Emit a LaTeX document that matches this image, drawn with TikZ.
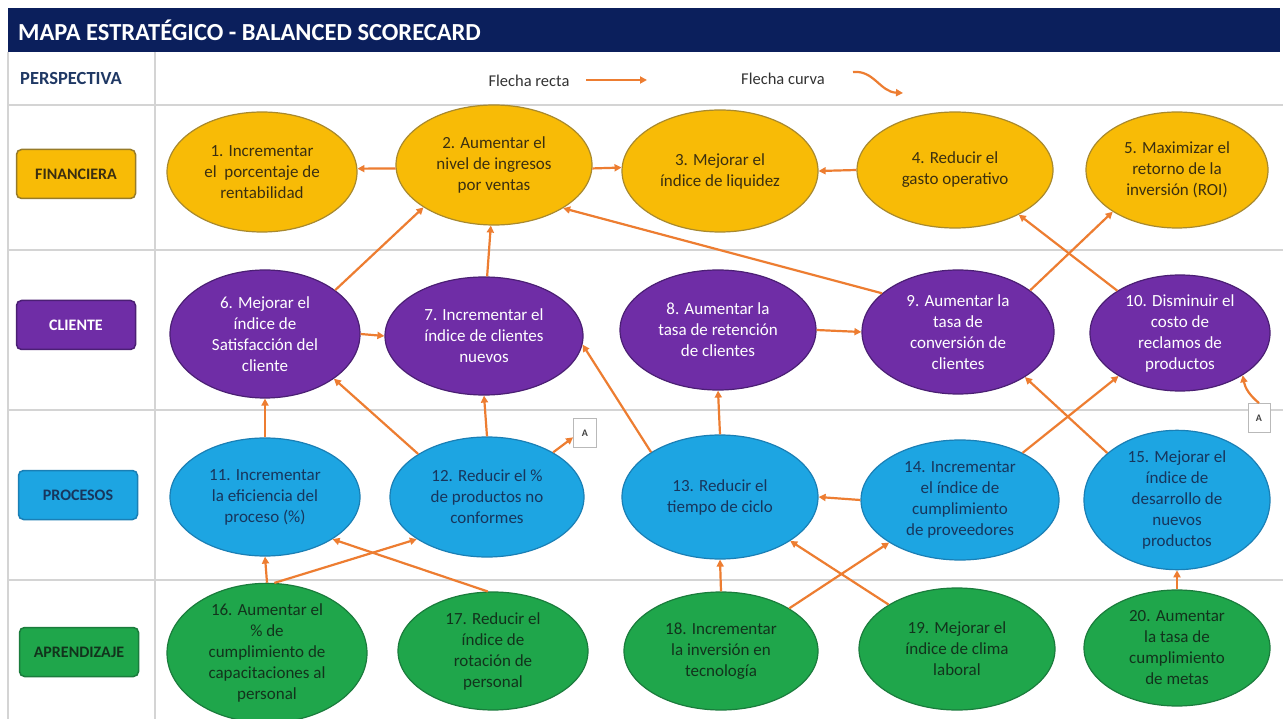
\documentclass[tikz,border=0pt]{standalone}
\usepackage{fontspec}
\setmainfont{Carlito}
\usetikzlibrary{arrows.meta,shapes.geometric}
\definecolor{navy}{HTML}{0B1F5C}
\definecolor{persp}{HTML}{1F3864}
\definecolor{finY}{HTML}{F8BB06}
\definecolor{finB}{HTML}{A8892E}
\definecolor{finT}{HTML}{3B2F10}
\definecolor{cliP}{HTML}{6F2DA6}
\definecolor{cliB}{HTML}{4B1F74}
\definecolor{proB}{HTML}{1DA5E2}
\definecolor{proD}{HTML}{1A7FB5}
\definecolor{proT}{HTML}{17365D}
\definecolor{aprG}{HTML}{1FA64B}
\definecolor{aprD}{HTML}{1A7C3C}
\definecolor{aprT}{HTML}{12331C}
\definecolor{arrO}{HTML}{ED7D31}
\definecolor{sepG}{HTML}{D4D4D4}
\tikzset{
 ell/.style={ellipse, draw, line width=1.2pt, align=center, inner sep=0pt, font=\fontsize{17}{21}\selectfont},
 fin/.style={ell, fill=finY, draw=finB, text=finT},
 cli/.style={ell, fill=cliP, draw=cliB, text=white},
 pro/.style={ell, fill=proB, draw=proD, text=proT},
 apr/.style={ell, fill=aprG, draw=aprD, text=aprT},
 lab/.style={rounded corners=5pt, line width=1.5pt, font=\bfseries\fontsize{16}{18}\selectfont, minimum width=119pt, minimum height=49pt, inner sep=0pt},
 arr/.style={draw=arrO, line width=2.2pt, -{Triangle[length=7pt,width=7pt]}},
 sep/.style={draw=sepG, line width=1.2pt},
 abox/.style={draw=gray!55, fill=white, line width=0.8pt, minimum width=23pt, minimum height=29pt, font=\bfseries\fontsize{10}{11}\selectfont, inner sep=0pt, text=black!75},
 legtxt/.style={font=\fontsize{16.5}{18}\selectfont, text=black!80, inner sep=0pt},
}
\begin{document}
\begin{tikzpicture}[x=1pt,y=-1pt]
\useasboundingbox (0,0) rectangle (1283,719);
\fill[white] (0,0) rectangle (1283,719);
% title bar
\fill[navy] (8,8) rectangle (1280,52);
\node[anchor=west, text=white, font=\bfseries\fontsize{24.5}{26}\selectfont, inner sep=0pt] (title) at (18,30) {MAPA ESTRATÉGICO - BALANCED SCORECARD};
% grid
\draw[sep] (8,52) -- (8,719);
\draw[sep] (155,52) -- (155,719);
\draw[sep] (8,105) -- (1283,105);
\draw[sep] (8,250) -- (1283,250);
\draw[sep] (8,410) -- (1283,410);
\draw[sep] (8,580) -- (1283,580);
% header
\node[anchor=west, text=persp, font=\bfseries\fontsize{18.5}{20}\selectfont, inner sep=0pt] (persp) at (20,79) {PERSPECTIVA};
\node[legtxt] (lr) at (529,81) {Flecha recta};
\coordinate (lr1) at (586,80);
\coordinate (lr2) at (647,80);
\draw[arr] (lr1) -- (lr2);
\node[legtxt] (lc) at (783,79) {Flecha curva};
\coordinate (lc1) at (853,72);
\coordinate (lc2) at (903,93);
\draw[arr] (lc1) .. controls (874,70) and (880,92) .. (lc2);
% labels
\node[lab, fill=finY, draw=finB!90!black, text=finT] (Lf) at (76,174) {FINANCIERA};
\node[lab, fill=cliP, draw=cliB, text=white] (Lc) at (76,325) {CLIENTE};
\node[lab, fill=proB, draw=proD, text=proT] (Lp) at (78,495) {PROCESOS};
\node[lab, fill=aprG, draw=aprD, text=aprT] (La) at (79,652) {APRENDIZAJE};
% financiera
\node[fin, minimum width=190pt, minimum height=120pt] (e1) at (262,172) {1. Incrementar\\el\ \ porcentaje de\\rentabilidad};
\node[fin, minimum width=196pt, minimum height=120pt] (e2) at (494,165) {2. Aumentar el\\nivel de ingresos\\por ventas};
\node[fin, minimum width=196pt, minimum height=122pt] (e3) at (720,171) {3. Mejorar el\\índice de liquidez};
\node[fin, minimum width=196pt, minimum height=116pt] (e4) at (955,170) {4. Reducir el\\gasto operativo};
\node[fin, minimum width=182pt, minimum height=116pt] (e5) at (1177,170) {5. Maximizar el\\retorno de la\\inversión (ROI)};
% cliente
\node[cli, minimum width=190pt, minimum height=128pt] (e6) at (265,334) {6. Mejorar el\\índice de\\Satisfacción del\\cliente};
\node[cli, minimum width=198pt, minimum height=118pt] (e7) at (484,336) {7. Incrementar el\\índice de clientes\\nuevos};
\node[cli, minimum width=196pt, minimum height=120pt] (e8) at (718,330) {8. Aumentar la\\tasa de retención\\de clientes};
\node[cli, minimum width=192pt, minimum height=124pt] (e9) at (958,332) {9. Aumentar la\\tasa de\\conversión de\\clientes};
\node[cli, minimum width=180pt, minimum height=116pt] (e10) at (1180,333) {10. Disminuir el\\costo de\\reclamos de\\productos};
% procesos
\node[pro, minimum width=190pt, minimum height=118pt] (e11) at (265,497) {11. Incrementar\\la eficiencia del\\proceso (\%)};
\node[pro, minimum width=194pt, minimum height=120pt] (e12) at (487,497) {12. Reducir el \%\\de productos no\\conformes};
\node[pro, minimum width=196pt, minimum height=124pt] (e13) at (720,497) {13. Reducir el\\tiempo de ciclo};
\node[pro, minimum width=198pt, minimum height=120pt] (e14) at (960,500) {14. Incrementar\\el índice de\\cumplimiento\\de proveedores};
\node[pro, minimum width=186pt, minimum height=120pt] (e15) at (1177,500) {15. Mejorar el\\índice de\\desarrollo de\\nuevos\\productos};
% aprendizaje
\node[apr, minimum width=200pt, minimum height=118pt] (e16) at (267,653) {16. Aumentar el\\\% de\\cumplimiento de\\capacitaciones al\\personal};
\node[apr, minimum width=190pt, minimum height=118pt] (e17) at (493,651) {17. Reducir el\\índice de\\rotación de\\personal};
\node[apr, minimum width=194pt, minimum height=118pt] (e18) at (721,651) {18. Incrementar\\la inversión en\\tecnología};
\node[apr, minimum width=196pt, minimum height=122pt] (e19) at (957,649) {19. Mejorar el\\índice de clima\\laboral};
\node[apr, minimum width=186pt, minimum height=116pt] (e20) at (1177,648) {20. Aumentar\\la tasa de\\cumplimiento\\de metas};
% A boxes
\node[abox] (a1) at (585,433) {A};
\node[abox, minimum width=22pt] (a2) at (1259,418) {A};
% arrows financiera
\draw[arr] (e2.182) -- (e1.2);
\draw[arr] (e2.-2) -- (e3.178);
\draw[arr] (e4.180) -- (e3.0);
% cliente -> financiera
\draw[arr] (e6.32) -- (e2.211);
\draw[arr] (e7.87) -- (e2.267);
\draw[arr] (e9.153) -- (e2.328);
\draw[arr] (e9.30) -- (e5.213);
\draw[arr] (e10.146) -- (e4.325);
\draw[arr] (e6.0) -- (e7.180);
\draw[arr] (e8.0) -- (e9.180);
% procesos -> cliente
\draw[arr] (e11.90) -- (e6.270);
\draw[arr] (e12.148) -- (e6.327);
\draw[arr] (e12.90) -- (e7.270);
\draw[arr] (e12.34) -- (a1.200);
\draw[arr] (e13.147) -- (e7.-5);
\draw[arr] (e13.90) -- (e8.270);
\draw[arr] (e14.37) -- (e10.215);
\draw[arr] (e15.146) -- (e9.326);
\draw[arr] (a2.north) to[bend left=20] (e10.-34);
\draw[arr] (e14.180) -- (e13.0);
% aprendizaje -> procesos
\draw[arr] (e16.90) -- (e11.270);
\draw[arr] (e16.84) -- (e12.211);
\draw[arr] (e17.95) -- (e11.328);
\draw[arr] (e18.90) -- (e13.270);
\draw[arr] (e18.32) -- (e14.211);
\draw[arr] (e19.147) -- (e13.328);
\draw[arr] (e20.90) -- (e15.270);
\end{tikzpicture}
\end{document}
